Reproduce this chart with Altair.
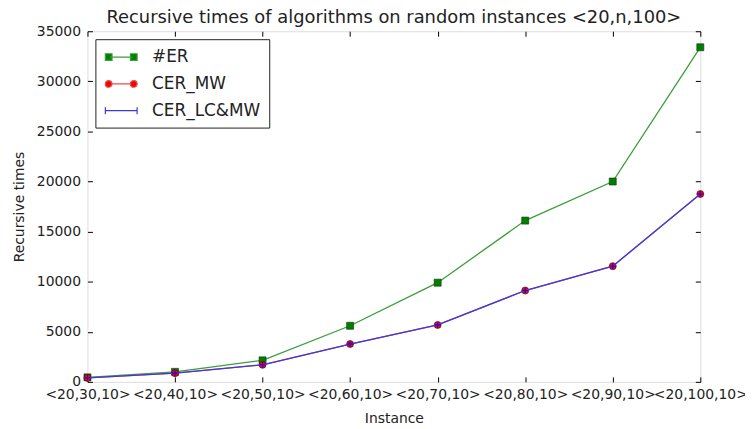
import altair as alt
import pandas as pd

instances = ["<20,30,10>", "<20,40,10>", "<20,50,10>", "<20,60,10>",
             "<20,70,10>", "<20,80,10>", "<20,90,10>", "<20,100,10>"]
series_names = ["#ER", "CER_MW", "CER_LC&MW"]
er_values = [450, 1000, 2150, 5600, 9900, 16100, 20000, 33400]
mw_values = [400, 870, 1700, 3780, 5680, 9120, 11550, 18750]
lcmw_values = [400, 870, 1700, 3780, 5680, 9120, 11550, 18750]
y_ticks = [0, 5000, 10000, 15000, 20000, 25000, 30000, 35000]

marker_colors = ["#007f00", "#ff0000", "#0000ff"]
line_colors = ["#3a9e3a", "#e05050", "#3a3ae0"]

rows = []
for name, vals in zip(series_names, [er_values, mw_values, lcmw_values]):
    for inst, v in zip(instances, vals):
        rows.append({"instance": inst, "series": name, "value": v})
df = pd.DataFrame(rows)

FONT = "DejaVu Sans"

xscale = alt.Scale(domain=instances, type="point", padding=0)
yscale = alt.Scale(domain=[0, 35000], nice=False)

x_main = alt.X("instance:N", sort=instances, scale=xscale, title="Instance",
               axis=alt.Axis(labelAngle=0, labelOverlap=False, labelBound=False,
                             labelFontSize=14, labelFont=FONT, labelColor="#222",
                             titleFontSize=14, titleFont=FONT, titleFontWeight="normal",
                             titleColor="#222", titlePadding=10, labelPadding=6,
                             ticks=False, domain=False,
                             grid=True, gridColor="black", gridOpacity=1,
                             gridDash=[5, 3000], gridWidth=1))
y_main = alt.Y("value:Q", scale=yscale, title="Recursive times",
               axis=alt.Axis(values=y_ticks, format="d",
                             labelFontSize=14, labelFont=FONT, labelColor="#222",
                             titleFontSize=14, titleFont=FONT, titleFontWeight="normal",
                             titleColor="#222", titlePadding=10, labelPadding=7,
                             ticks=False, domain=False,
                             grid=True, gridColor="black", gridOpacity=1,
                             gridDash=[5, 3000], gridWidth=1))
x_plain = alt.X("instance:N", sort=instances, scale=xscale, axis=None)
y_plain = alt.Y("value:Q", scale=yscale, axis=None)

base = alt.Chart(df)


def line_layer(i):
    return base.transform_filter(alt.datum.series == series_names[i]).mark_line(
        color=line_colors[i], strokeWidth=1.3).encode(x=x_plain, y=y_plain)


lines_main = base.transform_filter(alt.datum.series == series_names[0]).mark_line(
    color=line_colors[0], strokeWidth=1.3).encode(x=x_main, y=y_main)

er_markers = base.transform_filter(alt.datum.series == series_names[0]).mark_point(
    shape="square", filled=True, size=50, fill=marker_colors[0], stroke="#113311",
    strokeWidth=0.6, opacity=1).encode(x=x_plain, y=y_plain)
mw_markers = base.transform_filter(alt.datum.series == series_names[1]).mark_point(
    shape="circle", filled=True, size=50, fill=marker_colors[1], stroke="#331111",
    strokeWidth=0.6, opacity=1).encode(x=x_plain, y=y_plain)
lc_markers = base.transform_filter(alt.datum.series == series_names[2]).mark_point(
    shape="M-1,0H1M0,-1V1", filled=False, size=30, stroke=marker_colors[2],
    strokeWidth=1, opacity=1).encode(x=x_plain, y=y_plain)

legend_paths = [
    "M-1.4,0H1.4M-2,-0.42H-1.16V0.42H-2ZM1.16,-0.42H2V0.42H1.16Z",
    "M-1.16,0H1.16M-1.16,0A0.42,0.42 0 1 1 -2,0A0.42,0.42 0 1 1 -1.16,0ZM2,0A0.42,0.42 0 1 1 1.16,0A0.42,0.42 0 1 1 2,0Z",
    "M-2,0H2M-2,-0.45V0.45M2,-0.45V0.45",
]

legend_carrier = base.mark_point(filled=True, size=0, strokeWidth=1.2, opacity=1).encode(
    x=alt.X("instance:N", sort=instances, scale=xscale, title=None,
            axis=alt.Axis(orient="top", labels=False, ticks=False, domain=False,
                          grid=True, gridColor="black", gridOpacity=1,
                          gridDash=[5, 3000], gridWidth=1, title=None)),
    y=alt.Y("value:Q", scale=yscale, title=None,
            axis=alt.Axis(orient="right", labels=False, ticks=False, domain=False,
                          values=y_ticks,
                          grid=True, gridColor="black", gridOpacity=1,
                          gridDash=[5, 3000], gridWidth=1, title=None)),
    fill=alt.Fill("series:N", scale=alt.Scale(domain=series_names, range=marker_colors),
                  sort=series_names,
                  legend=alt.Legend(title=None, orient="top-left", offset=8, padding=9,
                                    strokeColor="#222", fillColor="white",
                                    labelFontSize=17, labelFont=FONT, labelColor="#222",
                                    symbolSize=256, symbolStrokeWidth=1.2,
                                    symbolOpacity=1, symbolOffset=8,
                                    labelOffset=22, rowPadding=10,
                                    cornerRadius=0)),
    stroke=alt.Stroke("series:N", scale=alt.Scale(domain=series_names, range=line_colors),
                      sort=series_names),
    shape=alt.Shape("series:N", scale=alt.Scale(domain=series_names, range=legend_paths),
                    sort=series_names),
)

chart = alt.layer(
    lines_main,
    line_layer(1),
    er_markers,
    mw_markers,
    line_layer(2),
    lc_markers,
    legend_carrier,
).resolve_axis(x="independent", y="independent").properties(
    width=617,
    height=353,
    padding={"left": 80, "top": 22, "right": 45, "bottom": 40},
    autosize="none",
    title=alt.TitleParams(
        "Recursive times of algorithms on random instances <20,n,100>",
        fontSize=18, font=FONT, fontWeight="normal", color="#222",
        anchor="middle", offset=-3),
).configure_view(stroke="#222", strokeWidth=1.2).configure(background="white")

chart.save("out.html", embed_options={"renderer": "svg", "actions": False})
